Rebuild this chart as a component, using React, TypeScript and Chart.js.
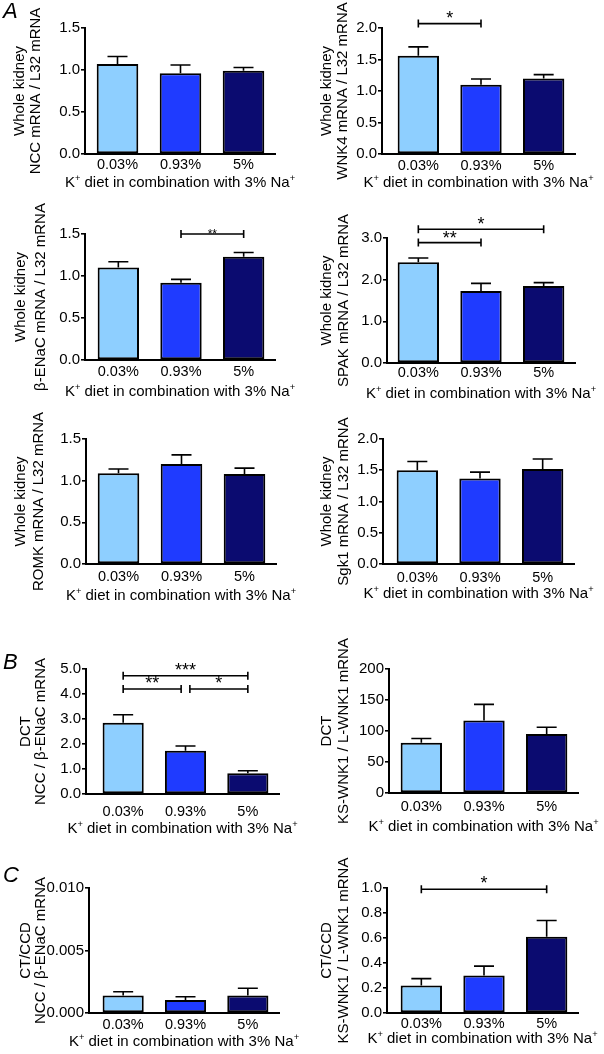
import React, { useEffect, useRef } from 'react';
import { Chart, registerables } from 'chart.js';

Chart.register(...registerables);

// ---------- data ----------
const categories = ['0.03%', '0.93%', '5%'];
type Seg = { t: string; sup?: boolean };
const xAxisTitle: Seg[] = [
  { t: 'K' },
  { t: '+', sup: true },
  { t: ' diet in combination with 3% Na' },
  { t: '+', sup: true },
];

const nccWholeMean = [1.07, 0.96, 0.99];
const nccWholeSem = [0.09, 0.1, 0.04];
const wnk4WholeMean = [1.56, 1.1, 1.2];
const wnk4WholeSem = [0.14, 0.09, 0.06];
const enacWholeMean = [1.1, 0.92, 1.23];
const enacWholeSem = [0.07, 0.04, 0.05];
const spakWholeMean = [2.42, 1.73, 1.85];
const spakWholeSem = [0.1, 0.18, 0.08];
const romkWholeMean = [1.09, 1.2, 1.08];
const romkWholeSem = [0.05, 0.11, 0.07];
const sgk1WholeMean = [1.5, 1.37, 1.52];
const sgk1WholeSem = [0.14, 0.1, 0.16];
const nccEnacDctMean = [2.85, 1.73, 0.83];
const nccEnacDctSem = [0.32, 0.19, 0.1];
const wnk1DctMean = [81, 117, 95];
const wnk1DctSem = [7, 26, 11];
const nccEnacCcdMean = [0.0014, 0.00104, 0.0014];
const nccEnacCcdSem = [0.0003, 0.00026, 0.00058];
const wnk1CcdMean = [0.22, 0.3, 0.61];
const wnk1CcdSem = [0.055, 0.075, 0.13];

type Sig = { from: number; to: number; level: number; label: string };
const noSig: Sig[] = [];
const wnk4Sig: Sig[] = [{ from: 0, to: 1, level: 2.07, label: '*' }];
const enacSig: Sig[] = [{ from: 1, to: 2, level: 1.5, label: '**' }];
const spakSig: Sig[] = [
  { from: 0, to: 2, level: 3.21, label: '*' },
  { from: 0, to: 1, level: 2.89, label: '**' },
];
const nccEnacDctSig: Sig[] = [
  { from: 0, to: 2, level: 4.73, label: '***' },
  { from: 0, to: 0.93, level: 4.2, label: '**' },
  { from: 1.07, to: 2, level: 4.2, label: '*' },
];
const wnk1CcdSig: Sig[] = [{ from: 0, to: 2, level: 0.99, label: '*' }];

// ---------- styling / layout ----------
const FONT = "'Liberation Sans', Arial, Helvetica, sans-serif";
const COLORS = ['#8ecfff', '#1f3bff', '#0b0b70'];
const X_TICK_SIZE = 14.5;
const Y_TICK_SIZE = 15;
const TITLE_SIZE = 15;

type Area = { l: number; t: number; r: number; b: number };
interface PanelSpec {
  mean: number[];
  sem: number[];
  sig: Sig[];
  yTitle: string[];
  yMax: number;
  yStep: number;
  decimals: number;
  col: number;
  area: Area;
  gap: number;
  tickY: number;
  titleY: number;
  yTitleXs: number[];
  starSize: number;
  starDy: number;
}

const panels: PanelSpec[] = [
  { mean: nccWholeMean, sem: nccWholeSem, sig: noSig, yTitle: ['Whole kidney', 'NCC mRNA / L32 mRNA'], yMax: 1.5, yStep: 0.5, decimals: 1,
    col: 0, area: { l: 85, t: 28, r: 275, b: 154 }, gap: 1, tickY: 165, titleY: 182, yTitleXs: [20, 36], starSize: 18, starDy: 0 },
  { mean: wnk4WholeMean, sem: wnk4WholeSem, sig: wnk4Sig, yTitle: ['Whole kidney', 'WNK4 mRNA / L32 mRNA'], yMax: 2.0, yStep: 0.5, decimals: 1,
    col: 1, area: { l: 382, t: 28, r: 575, b: 154 }, gap: 5, tickY: 165.5, titleY: 182, yTitleXs: [327, 343], starSize: 18, starDy: 0 },
  { mean: enacWholeMean, sem: enacWholeSem, sig: enacSig, yTitle: ['Whole kidney', 'β-ENaC mRNA / L32 mRNA'], yMax: 1.5, yStep: 0.5, decimals: 1,
    col: 0, area: { l: 85, t: 234, r: 275, b: 360 }, gap: 2, tickY: 372, titleY: 391, yTitleXs: [21, 41], starSize: 12, starDy: 4 },
  { mean: spakWholeMean, sem: spakWholeSem, sig: spakSig, yTitle: ['Whole kidney', 'SPAK mRNA / L32 mRNA'], yMax: 3.0, yStep: 1.0, decimals: 1,
    col: 1, area: { l: 387, t: 238, r: 575, b: 363 }, gap: 0, tickY: 373, titleY: 393, yTitleXs: [327, 344], starSize: 18, starDy: 1 },
  { mean: romkWholeMean, sem: romkWholeSem, sig: noSig, yTitle: ['Whole kidney', 'ROMK mRNA / L32 mRNA'], yMax: 1.5, yStep: 0.5, decimals: 1,
    col: 0, area: { l: 86, t: 439, r: 276, b: 564 }, gap: 1, tickY: 577, titleY: 595, yTitleXs: [21, 39], starSize: 18, starDy: 0 },
  { mean: sgk1WholeMean, sem: sgk1WholeSem, sig: noSig, yTitle: ['Whole kidney', 'Sgk1 mRNA / L32 mRNA'], yMax: 2.0, yStep: 0.5, decimals: 1,
    col: 1, area: { l: 383, t: 439, r: 574, b: 564 }, gap: 3, tickY: 578, titleY: 593, yTitleXs: [327, 344], starSize: 18, starDy: 0 },
  { mean: nccEnacDctMean, sem: nccEnacDctSem, sig: nccEnacDctSig, yTitle: ['DCT', 'NCC / β-ENaC mRNA'], yMax: 5.0, yStep: 1.0, decimals: 1,
    col: 0, area: { l: 86, t: 669, r: 279, b: 794 }, gap: 6, tickY: 812, titleY: 828, yTitleXs: [26, 41], starSize: 18, starDy: 0 },
  { mean: wnk1DctMean, sem: wnk1DctSem, sig: noSig, yTitle: ['DCT', 'KS-WNK1 / L-WNK1 mRNA'], yMax: 200, yStep: 50, decimals: 0,
    col: 1, area: { l: 389, t: 669, r: 578, b: 793 }, gap: 1, tickY: 807, titleY: 826, yTitleXs: [327, 344], starSize: 18, starDy: 0 },
  { mean: nccEnacCcdMean, sem: nccEnacCcdSem, sig: noSig, yTitle: ['CT/CCD', 'NCC / β-ENaC mRNA'], yMax: 0.01, yStep: 0.005, decimals: 3,
    col: 0, area: { l: 89, t: 888, r: 279, b: 1013 }, gap: 3, tickY: 1025, titleY: 1041, yTitleXs: [26, 41], starSize: 18, starDy: 0 },
  { mean: wnk1CcdMean, sem: wnk1CcdSem, sig: wnk1CcdSig, yTitle: ['CT/CCD', 'KS-WNK1 / L-WNK1 mRNA'], yMax: 1.0, yStep: 0.2, decimals: 1,
    col: 1, area: { l: 387, t: 888, r: 578, b: 1013 }, gap: 3, tickY: 1024, titleY: 1038, yTitleXs: [327, 344], starSize: 18, starDy: 0 },
];

const letters = [
  { text: 'A', top: 0 },
  { text: 'B', top: 651 },
  { text: 'C', top: 864 },
];

function boxOf(spec: PanelSpec) {
  const x = spec.col === 0 ? 0 : 300;
  const w = spec.col === 0 ? 300 : 304;
  const y = spec.area.t - 48;
  const h = spec.area.b + 50 - y;
  return { x, y, w, h };
}

function drawRich(ctx: CanvasRenderingContext2D, segs: Seg[], cx: number, cy: number, size: number) {
  const supSize = size * 0.62;
  const widths = segs.map((s) => {
    ctx.font = `${s.sup ? supSize : size}px ${FONT}`;
    return ctx.measureText(s.t).width;
  });
  const total = widths.reduce((a, b) => a + b, 0);
  let x = cx - total / 2;
  const baseline = cy + size * 0.36;
  ctx.textAlign = 'left';
  ctx.textBaseline = 'alphabetic';
  segs.forEach((s, i) => {
    ctx.font = `${s.sup ? supSize : size}px ${FONT}`;
    ctx.fillText(s.t, x, s.sup ? baseline - size * 0.4 : baseline);
    x += widths[i];
  });
}

function Panel({ spec }: { spec: PanelSpec }) {
  const ref = useRef<HTMLCanvasElement | null>(null);
  const box = boxOf(spec);

  useEffect(() => {
    if (!ref.current) return;
    const { area, gap } = spec;
    const catW = (area.r - area.l - gap) / 3;
    const xMin = -0.5 - gap / catW;
    const xTickFont = { family: FONT, size: X_TICK_SIZE, lineHeight: 1.2 };
    const yTickFont = { family: FONT, size: Y_TICK_SIZE, lineHeight: 1.2 };

    const errorBars = {
      id: 'errorBars',
      afterDatasetsDraw(chart: any) {
        const ctx = chart.ctx;
        const ys = chart.scales.y;
        const meta = chart.getDatasetMeta(0);
        ctx.save();
        ctx.strokeStyle = '#000';
        ctx.lineWidth = 1.6;
        meta.data.forEach((bar: any, i: number) => {
          const v = spec.mean[i];
          const e = spec.sem[i];
          const y0 = ys.getPixelForValue(v);
          const y1 = ys.getPixelForValue(v + e);
          ctx.beginPath();
          ctx.moveTo(bar.x, y0);
          ctx.lineTo(bar.x, y1);
          ctx.moveTo(bar.x - 10, y1);
          ctx.lineTo(bar.x + 10, y1);
          ctx.stroke();
        });
        ctx.restore();
      },
    };

    const annotations = {
      id: 'annotations',
      afterDraw(chart: any) {
        const ctx: CanvasRenderingContext2D = chart.ctx;
        const xs = chart.scales.x;
        const ys = chart.scales.y;
        const ca = chart.chartArea;
        ctx.save();
        ctx.strokeStyle = '#000';
        ctx.fillStyle = '#000';
        ctx.lineWidth = 1.6;
        // significance brackets
        ctx.font = `${spec.starSize}px ${FONT}`;
        ctx.textAlign = 'center';
        ctx.textBaseline = 'alphabetic';
        spec.sig.forEach((s) => {
          const x1 = xs.getPixelForValue(s.from);
          const x2 = xs.getPixelForValue(s.to);
          const y = ys.getPixelForValue(s.level);
          ctx.beginPath();
          ctx.moveTo(x1, y);
          ctx.lineTo(x2, y);
          ctx.moveTo(x1, y - 4);
          ctx.lineTo(x1, y + 4);
          ctx.moveTo(x2, y - 4);
          ctx.lineTo(x2, y + 4);
          ctx.stroke();
          ctx.fillText(s.label, (x1 + x2) / 2, y + spec.starDy);
        });
        // x axis title
        drawRich(ctx, xAxisTitle, (ca.left + ca.right) / 2, spec.titleY - box.y, TITLE_SIZE);
        // y axis title (rotated, two lines)
        const cy = (ca.top + ca.bottom) / 2;
        spec.yTitle.forEach((line, i) => {
          ctx.save();
          ctx.translate(spec.yTitleXs[i] - box.x, cy);
          ctx.rotate(-Math.PI / 2);
          ctx.font = `${TITLE_SIZE}px ${FONT}`;
          ctx.textAlign = 'center';
          ctx.textBaseline = 'middle';
          ctx.fillText(line, 0, 0);
          ctx.restore();
        });
        ctx.restore();
      },
    };

    const chart = new Chart(ref.current, {
      type: 'bar',
      data: {
        datasets: [
          {
            data: spec.mean.map((v, i) => ({ x: i, y: v })),
            backgroundColor: COLORS,
            borderColor: '#000',
            borderWidth: 2,
            borderSkipped: false,
            barPercentage: 0.66,
            categoryPercentage: 1,
          } as any,
        ],
      },
      options: {
        animation: false,
        responsive: false,
        events: [],
        layout: {
          padding: { left: 0, top: area.t - box.y, right: box.x + box.w - area.r, bottom: 0 },
        },
        plugins: { legend: { display: false }, tooltip: { enabled: false } },
        scales: {
          x: {
            type: 'linear',
            min: xMin,
            max: 2.5,
            offset: false,
            afterBuildTicks: (s: any) => {
              s.ticks = categories.map((_, i) => ({ value: i }));
            },
            afterFit: (s: any) => {
              s.height = box.y + box.h - area.b;
            },
            grid: { display: false, drawTicks: false, offset: false },
            border: { display: true, color: '#000', width: 2 },
            ticks: {
              autoSkip: false,
              maxRotation: 0,
              padding: spec.tickY - area.b - X_TICK_SIZE * 0.6,
              color: '#000',
              font: xTickFont,
              callback: (v: any) => categories[Math.round(Number(v))] ?? '',
            },
            title: { display: false },
          },
          y: {
            min: 0,
            max: spec.yMax,
            afterFit: (s: any) => {
              s.width = area.l - box.x;
            },
            ticks: {
              stepSize: spec.yStep,
              padding: 1,
              color: '#000',
              font: yTickFont,
              callback: (v: any) => Number(v).toFixed(spec.decimals),
            },
            grid: { display: true, drawOnChartArea: false, drawTicks: true, tickLength: 4, color: '#000', lineWidth: 1.6 },
            border: { display: true, color: '#000', width: 2 },
            title: { display: false },
          },
        },
      } as any,
      plugins: [errorBars, annotations],
    });
    return () => chart.destroy();
  }, [spec]);

  return (
    <canvas
      ref={ref}
      width={box.w}
      height={box.h}
      style={{ position: 'absolute', left: box.x, top: box.y, width: box.w, height: box.h, display: 'block' }}
    />
  );
}

export default function App() {
  return (
    <div style={{ position: 'absolute', left: 0, top: 0, width: 604, height: 1054, background: '#fff', overflow: 'hidden' }}>
      {panels.map((p, i) => (
        <Panel key={i} spec={p} />
      ))}
      {letters.map((l) => (
        <div
          key={l.text}
          style={{
            position: 'absolute',
            left: 3,
            top: l.top,
            fontFamily: FONT,
            fontStyle: 'italic',
            fontSize: 22,
            lineHeight: '22px',
            color: '#000',
          }}
        >
          {l.text}
        </div>
      ))}
    </div>
  );
}
